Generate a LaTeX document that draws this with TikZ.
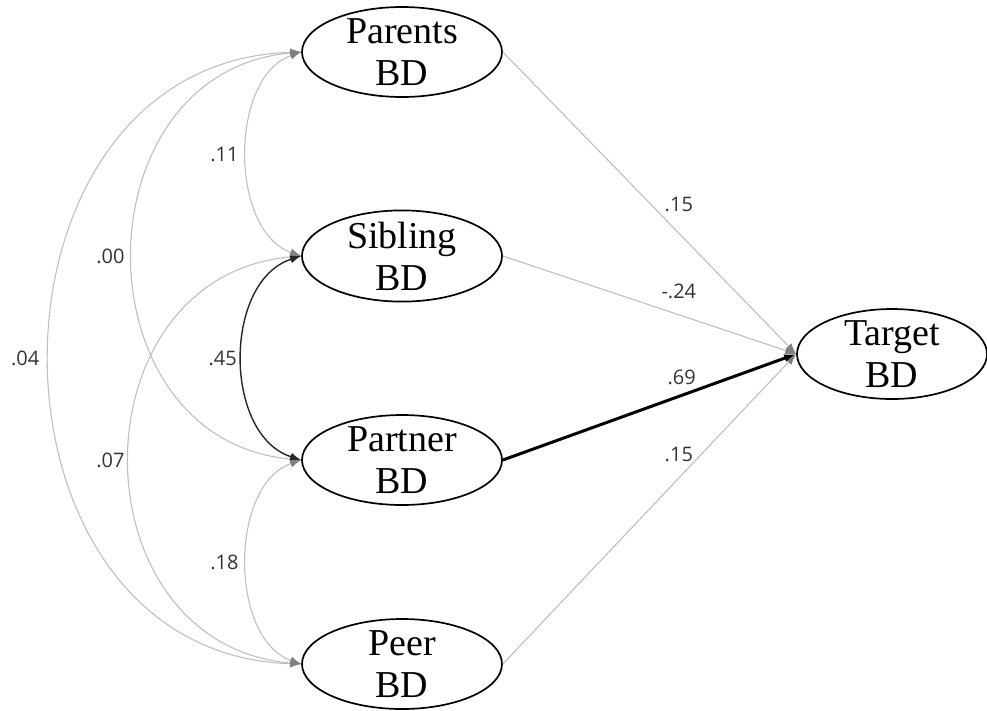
\documentclass[tikz,border=0pt]{standalone}
\usepackage{fontspec}
\setmainfont{Liberation Serif}
\newfontfamily\coeffont{Open Sans}
\usetikzlibrary{shapes.geometric}
\usetikzlibrary{arrows.meta}

\begin{document}
\begin{tikzpicture}[x=1pt, y=-1pt,
    latent/.style = {draw, ellipse, line width=1.7pt, inner xsep=0pt, inner ysep=-2pt, minimum width=200pt, minimum height=90pt, align=center, font=\fontsize{38}{42}\selectfont},
    coef/.style   = {font=\coeffont\fontsize{20}{22}\selectfont, text=black!80, inner sep=0pt},
    weak/.style   = {gray!50, line width=1.1pt, -{Latex[length=11pt, width=8pt, color=gray]}},
    strong/.style = {black, line width=3pt, -{Latex[length=12pt, width=8pt]}},
    wcov/.style   = {gray!50, line width=1.1pt, {Latex[length=11pt, width=8pt, color=gray]}-{Latex[length=11pt, width=8pt, color=gray]}},
    scov/.style   = {black!85, line width=1.4pt, {Latex[length=11pt, width=8pt]}-{Latex[length=11pt, width=8pt]}}]
    \useasboundingbox (0,0) rectangle (987,710);
    %
    \node[latent] (parents) at (402,52)  {Parents\\BD};
    \node[latent] (sibling) at (402,256) {Sibling\\BD};
    \node[latent] (partner) at (402,460) {Partner\\BD};
    \node[latent] (peer)    at (402,664) {Peer\\BD};
    \node[latent, minimum width=190pt] (target) at (892,354) {Target\\BD};
    %
    \draw[wcov] (parents.west) .. controls (-34,62) and (-34,654) .. (peer.west) node[coef, pos=0.5, left=10pt] {.04}; % outer arc
    \draw[wcov] (parents.west) .. controls (77,72) and (77,440) .. (partner.west) node[coef, pos=0.5, left=8pt] {.00};
    \draw[wcov] (sibling.west) .. controls (73,276) and (73,644) .. (peer.west) node[coef, pos=0.5, left=5pt] {.07};
    \draw[wcov] (parents.west) .. controls (229,77) and (229,231) .. (sibling.west) node[coef, pos=0.5, left=8pt] {.11};
    \draw[wcov] (partner.west) .. controls (229,485) and (229,639) .. (peer.west) node[coef, pos=0.5, left=8pt] {.18};
    \draw[scov] (sibling.west) .. controls (223,281) and (223,435) .. (partner.west) node[coef, pos=0.5, left=5pt] {.45};
    %
    \draw[weak] (parents.east) -- (target.west) node[coef, pos=0.6, above=21pt] {.15};
    \draw[weak] (sibling.east) -- (target.west) node[coef, pos=0.6, above=15pt] {-.24};
    \draw[weak] (peer.east) -- (target.west) node[coef, pos=0.6, above=16pt] {.15};
    \draw[strong] (partner.east) -- (target.west) node[coef, pos=0.61, above=9pt] {.69}; % strongest path
\end{tikzpicture}
\end{document}
